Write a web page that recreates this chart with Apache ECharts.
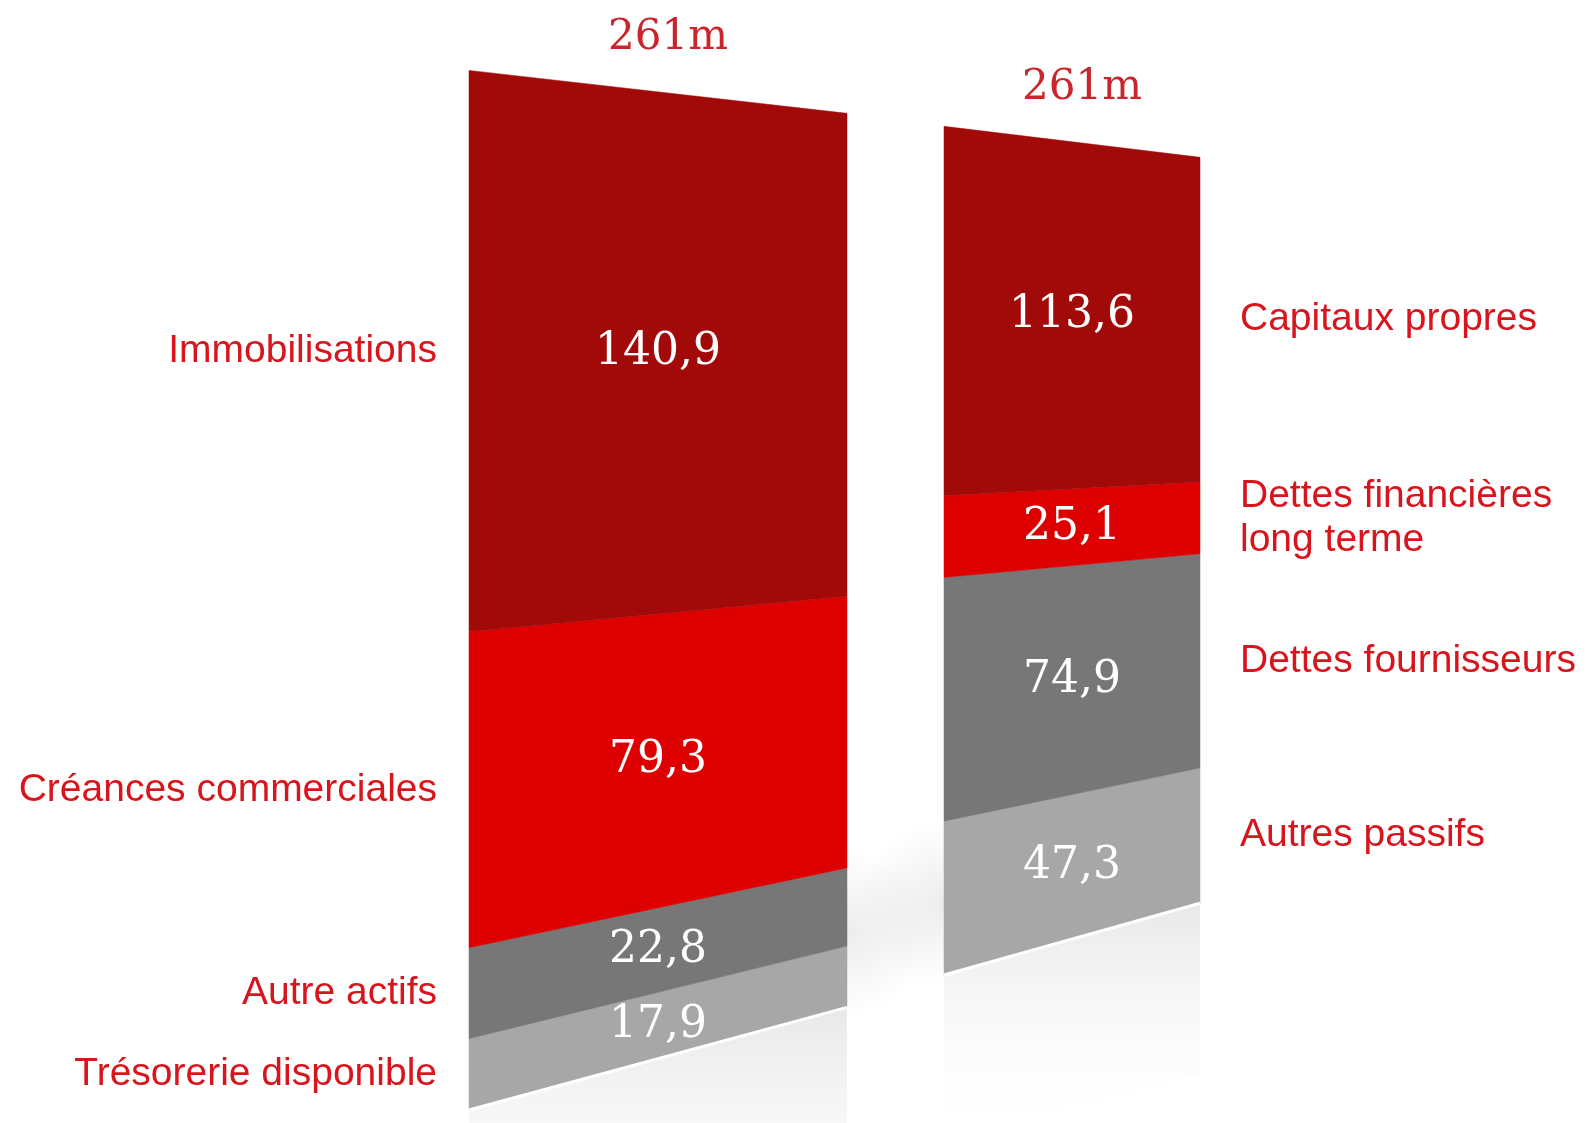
<!DOCTYPE html>
<html>
<head>
<meta charset="utf-8">
<title>Bilan simplifié</title>
<script src="https://cdn.jsdelivr.net/npm/echarts@6/dist/echarts.min.js"></script>
<style>
  html, body { margin: 0; padding: 0; background: #ffffff; }
  #chart { width: 1588px; height: 1123px; }
</style>
</head>
<body>
<div id="chart"></div>
<script>
// Balance sheet, in millions: assets on the left, liabilities on the right (stacked bottom to top)
const assetCategories = ['Trésorerie disponible', 'Autre actifs', 'Créances commerciales', 'Immobilisations'];
const assetValues = [17.9, 22.8, 79.3, 140.9];
const liabilityCategories = ['Autres passifs', 'Dettes fournisseurs', 'Dettes financières\nlong terme', 'Capitaux propres'];
const liabilityValues = [47.3, 74.9, 25.1, 113.6];
const totals = [261, 261];
const totalSuffix = 'm';

const segmentColors = ['#a7a7a7', '#777777', '#de0000', '#a20a0a'];
const labelRed = '#d8141c';
const titleRed = '#c8262c';

// Perspective of each column: how far the far (right) edge drops at the top and how much it shrinks
const perspective = [
  { drop: 43, ratio: 0.86 },
  { drop: 31, ratio: 0.879 }
];

const columns = [
  { categories: assetCategories, values: assetValues, side: 'left' },
  { categories: liabilityCategories, values: liabilityValues, side: 'right' }
];

function fmt(v) { return v.toFixed(1).replace('.', ','); }

// Map a flat grid point onto the tilted column face
function warp(pt, rect, p) {
  const t = (pt[0] - rect.x) / rect.width;
  const scale = 1 + t * (p.ratio - 1);
  return [pt[0], rect.y + t * p.drop + (pt[1] - rect.y) * scale];
}

function makeSeries(ci) {
  const col = columns[ci];
  const p = perspective[ci];
  const data = [];
  let acc = 0;
  col.values.forEach(function (v, i) {
    data.push([acc, acc + v, i]);
    acc += v;
  });
  return {
    type: 'custom',
    xAxisIndex: ci,
    yAxisIndex: ci,
    clip: false,
    silent: true,
    data: data,
    renderItem: function (params, api) {
      const rect = params.coordSys;
      const start = api.value(0);
      const end = api.value(1);
      const idx = api.value(2);
      const w = function (x, y) { return warp(api.coord([x, y]), rect, p); };
      const children = [];

      if (idx === 0) {
        // floor reflection under the column
        const b0 = w(0, 0), b1 = w(1, 0);
        children.push({
          type: 'polygon',
          shape: { points: [b0, b1, [b1[0], b1[1] + 170], [b0[0], b0[1] + 170]] },
          style: {
            fill: new echarts.graphic.LinearGradient(0, 0, 0, 1, [
              { offset: 0, color: '#e8e8e8' },
              { offset: 1, color: 'rgba(255,255,255,0)' }
            ])
          }
        });
        // soft cast shadow on the inner side, between the two columns
        const inner = col.side === 'left' ? 1 : 0;
        const dir = col.side === 'left' ? 1 : -1;
        const sc = w(inner, 22);
        const r = 85;
        children.push({
          type: 'rect',
          shape: {
            x: dir > 0 ? sc[0] : sc[0] - r,
            y: sc[1] - r,
            width: r,
            height: 2 * r
          },
          style: {
            fill: new echarts.graphic.RadialGradient(sc[0], sc[1], r, [
              { offset: 0, color: 'rgba(0,0,0,0.075)' },
              { offset: 0.5, color: 'rgba(0,0,0,0.035)' },
              { offset: 1, color: 'rgba(0,0,0,0)' }
            ], true)
          }
        });
      }

      children.push({
        type: 'polygon',
        shape: { points: [w(0, start), w(1, start), w(1, end), w(0, end)] },
        style: { fill: segmentColors[idx], stroke: segmentColors[idx], lineWidth: 0.5 }
      });

      if (idx === 0) {
        children.push({
          type: 'polyline',
          shape: { points: [w(0, 0), w(1, 0)] },
          style: { stroke: '#ffffff', lineWidth: 3, fill: null }
        });
      }

      // value inside the segment
      const mid = (start + end) / 2;
      const c = w(0.5, mid);
      children.push({
        type: 'text',
        x: c[0], y: c[1],
        style: {
          text: fmt(end - start),
          fill: '#ffffff',
          font: '44px "DejaVu Serif", "Liberation Serif", serif',
          align: 'center',
          verticalAlign: 'middle'
        }
      });

      // category name beside the outer edge
      const edge = col.side === 'left' ? w(0, mid) : w(1, mid);
      children.push({
        type: 'text',
        x: col.side === 'left' ? edge[0] - 32 : edge[0] + 40,
        y: edge[1],
        style: {
          text: col.categories[idx],
          fill: labelRed,
          font: '39px "Liberation Sans", Arial, sans-serif',
          lineHeight: 44,
          align: col.side === 'left' ? 'right' : 'left',
          verticalAlign: 'middle'
        }
      });

      // total above the column
      if (idx === col.values.length - 1) {
        const t = w(0.5, totals[ci]);
        children.push({
          type: 'text',
          x: t[0] + 10, y: t[1] - 53,
          style: {
            text: totals[ci] + totalSuffix,
            fill: titleRed,
            font: '42px "DejaVu Serif", "Liberation Serif", serif',
            align: 'center',
            verticalAlign: 'middle'
          }
        });
      }
      return { type: 'group', children: children };
    }
  };
}

const chart = echarts.init(document.getElementById('chart'), null, { renderer: 'canvas' });
chart.setOption({
  backgroundColor: '#ffffff',
  animation: false,
  grid: [
    { left: 469, top: 70, width: 378, height: 1040 },
    { left: 944, top: 126, width: 256, height: 849 }
  ],
  xAxis: [
    { gridIndex: 0, type: 'value', min: 0, max: 1, show: false },
    { gridIndex: 1, type: 'value', min: 0, max: 1, show: false }
  ],
  yAxis: [
    { gridIndex: 0, type: 'value', min: 0, max: totals[0], show: false },
    { gridIndex: 1, type: 'value', min: 0, max: totals[1], show: false }
  ],
  series: [makeSeries(0), makeSeries(1)]
});
</script>
</body>
</html>
